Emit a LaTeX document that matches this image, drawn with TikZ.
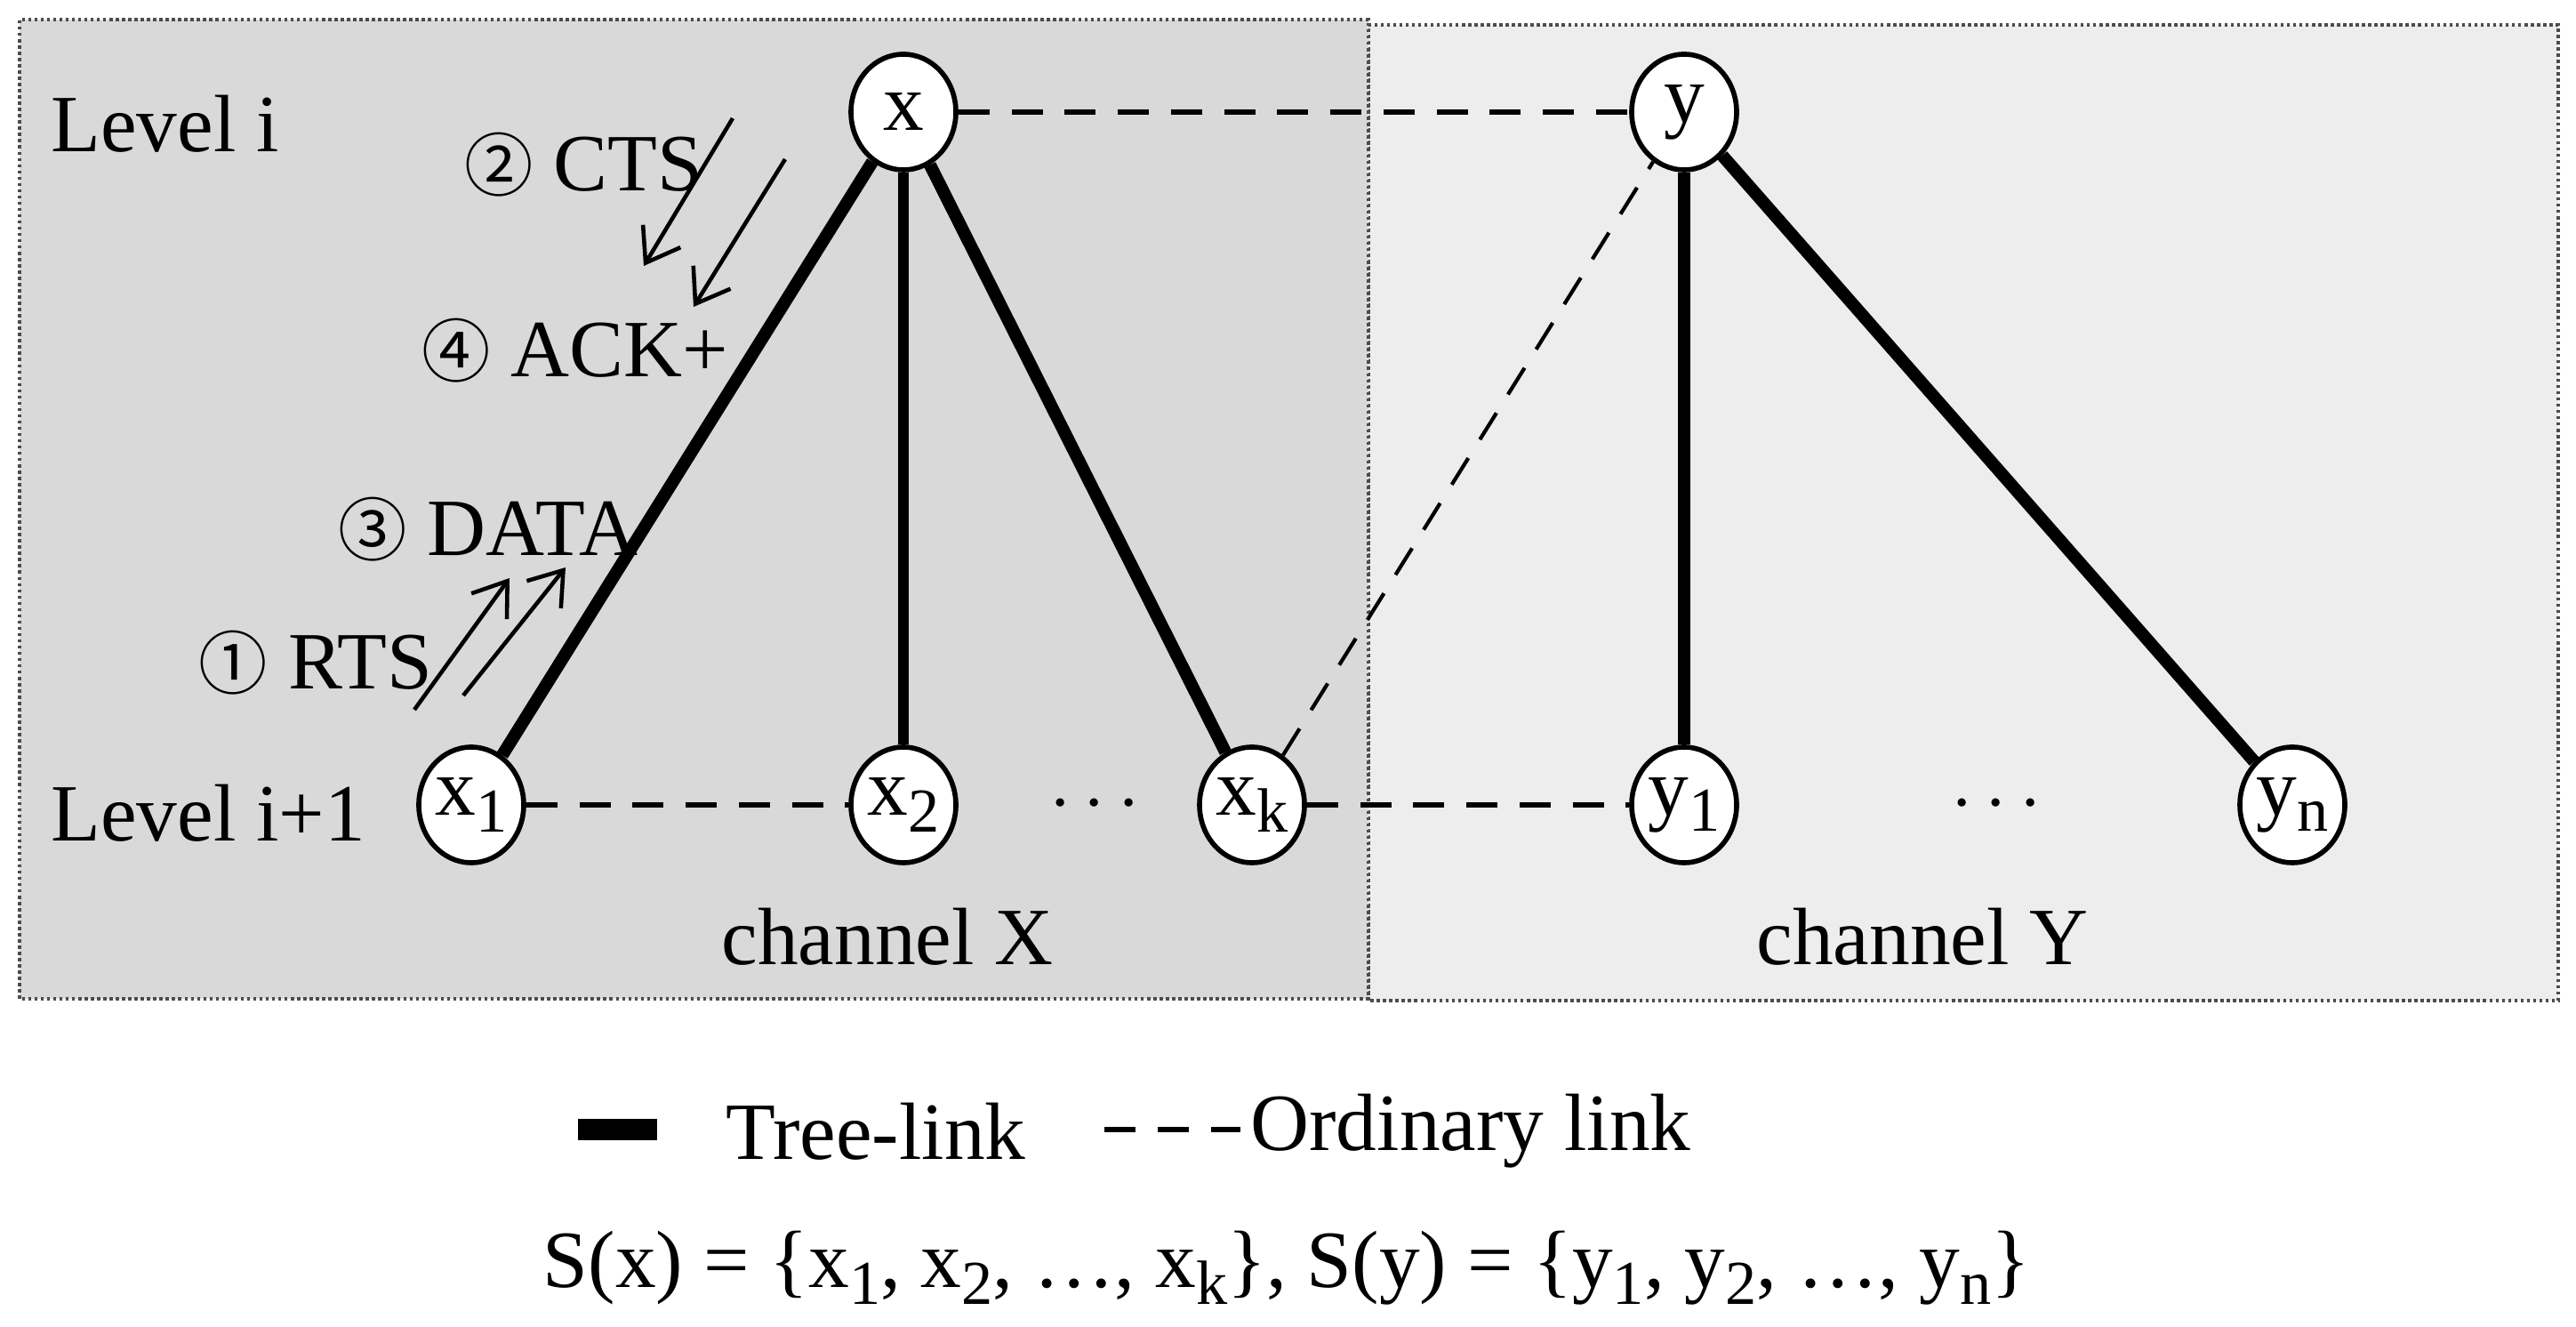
\documentclass[tikz,border=0pt]{standalone}
\usepackage{fontspec}
\setmainfont{Liberation Serif}
\newfontfamily\cjk{Noto Sans CJK SC}
\usetikzlibrary{arrows.meta}
\usetikzlibrary{shapes.geometric}
\newcommand{\sub}[1]{\raisebox{-.45ex}{\fontsize{20}{22}\selectfont #1}}
\newcommand{\cn}[1]{{\cjk\fontsize{22}{24}\selectfont #1}}
\begin{document}
\begin{tikzpicture}[font=\fontsize{26}{30}\selectfont,
        node_style/.style={ellipse,draw=black,line width=1.6pt,fill=white,minimum width=1.18cm,minimum height=1.3cm,inner sep=0pt},
        tree_style/.style={draw=black,line width=4pt},
        ordinary_style/.style={draw=black,line width=1.6pt,dash pattern=on 10pt off 7pt},
        msg_style/.style={draw=black,line width=1.3pt,-{Straight Barb[length=10pt,width=14pt]}}]
        \useasboundingbox (0,0) rectangle (28.97,14.92);

        \draw [fill=black!7,draw=black!70,densely dotted,line width=1pt] (15.39,3.67) rectangle (28.77,14.64);
        \draw [fill=black!15,draw=black!70,densely dotted,line width=1pt] (0.22,3.69) rectangle (15.39,14.70);

        \node [anchor=west] (lvi) at (0.45,13.53) {Level i};
        \node [anchor=west] (lvi1) at (0.45,5.78) {Level i+1};
        \node (chx) at (9.98,4.39) {channel X};
        \node (chy) at (21.62,4.39) {channel Y};

        \node [node_style](x) at (10.16,13.66) {x};
        \node [node_style](y) at (18.94,13.66) {y};
        \node [node_style](x1) at (5.30,5.87) {x\sub{1}};
        \node [node_style](x2) at (10.16,5.87) {x\sub{2}};
        \node [node_style](xk) at (14.08,5.87) {x\sub{k}};
        \node [node_style](y1) at (18.94,5.87) {y\sub{1}};
        \node [node_style](yn) at (25.78,5.87) {y\sub{n}};
        \node (dx) at (12.31,5.87) {$\cdots$};
        \node (dy) at (22.45,5.87) {$\cdots$};

        \draw [tree_style] (x) -- (x1);
        \draw [tree_style,line width=3.2pt] (x) -- (x2);
        \draw [tree_style] (x) -- (xk);
        \draw [tree_style] (y) -- (y1);
        \draw [tree_style] (y) -- (yn);

        \draw [ordinary_style] (x) -- (y);
        \draw [ordinary_style] (x1) -- (x2);
        \draw [ordinary_style] (xk) -- (y1);
        \draw [ordinary_style,line width=1.2pt] (xk) -- (y);

        \node (cts) at (6.56,13.07) {\cn{②} CTS};
        \node (ack) at (6.47,10.98) {\cn{④} ACK+};
        \node (data) at (5.49,8.97) {\cn{③} DATA};
        \node (rts) at (3.55,7.47) {\cn{①} RTS};
        \coordinate (c1) at (8.24,13.59); \coordinate (c2) at (7.24,11.93);
        \coordinate (a1) at (8.83,13.13); \coordinate (a2) at (7.80,11.47);
        \coordinate (r1) at (4.66,6.94); \coordinate (r2) at (5.73,8.42);
        \coordinate (d1) at (5.21,7.10); \coordinate (d2) at (6.36,8.54);
        \draw [msg_style] (c1) -- (c2);
        \draw [msg_style] (a1) -- (a2);
        \draw [msg_style] (r1) -- (r2);
        \draw [msg_style] (d1) -- (d2);

        % legend
        \coordinate (t1) at (6.50,2.22); \coordinate (t2) at (7.39,2.22);
        \draw [draw=black,line width=7pt] (t1) -- (t2);
        \node (tl) at (9.85,2.20) {Tree-link};
        \coordinate (o1) at (12.42,2.22); \coordinate (o2) at (13.95,2.22);
        \draw [ordinary_style] (o1) -- (o2);
        \node (ol) at (16.54,2.20) {Ordinary link};
        \node (set) at (14.47,0.66) {S(x) = \{x\sub{1}, x\sub{2}, …, x\sub{k}\}, S(y) = \{y\sub{1}, y\sub{2}, …, y\sub{n}\}};
\end{tikzpicture}
\end{document}
